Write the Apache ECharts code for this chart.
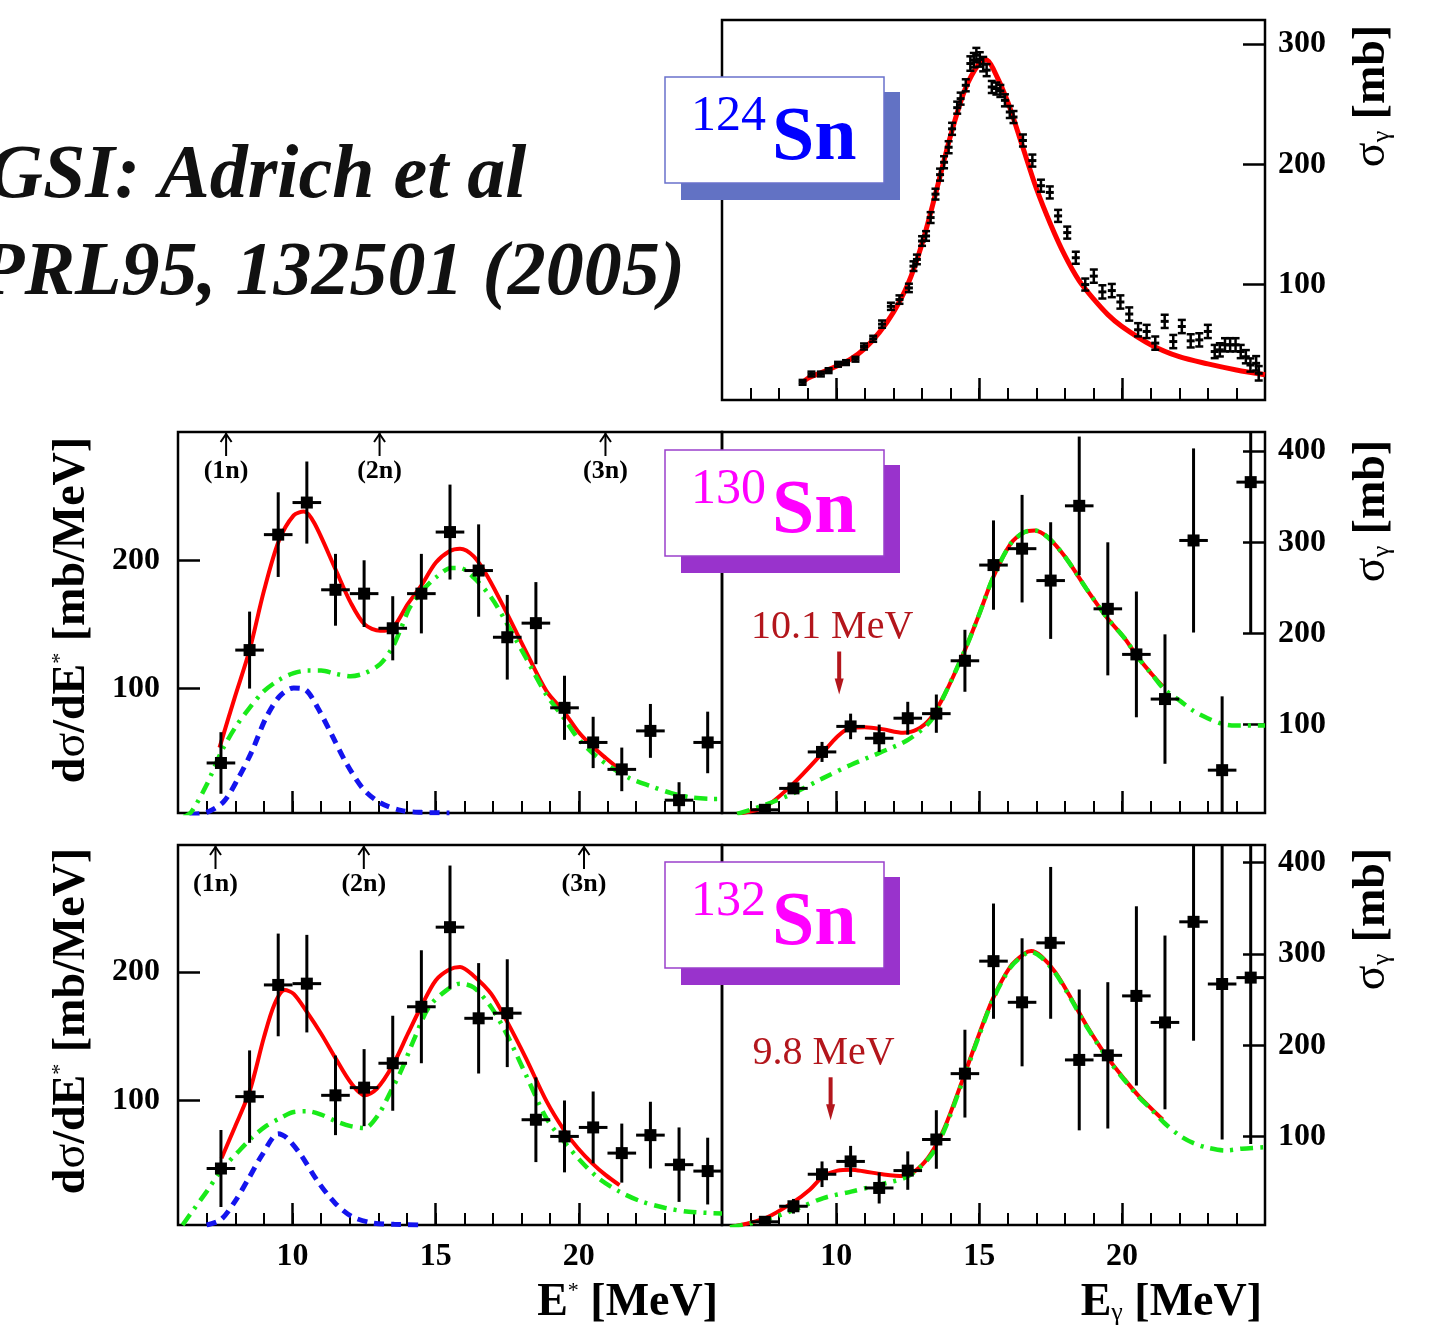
<!DOCTYPE html>
<html>
<head>
<meta charset="utf-8">
<title>Sn dipole strength</title>
<script src="https://cdn.jsdelivr.net/npm/echarts@6/dist/echarts.min.js"></script>
<style>
  html, body { margin: 0; padding: 0; background: #fff; }
  #chart { width: 1435px; height: 1335px; }
</style>
</head>
<body>
<div id="chart"></div>
<script>
// ---------- data ----------
const X_MAJOR = [10, 15, 20];
const Y_LEFT_TICKS = [100, 200];
const Y_RIGHT_TICKS = [100, 200, 300, 400];
const Y_TOP_TICKS = [100, 200, 300];

// 124Sn photoabsorption cross section
const SN124_E = [8.82, 9.13, 9.46, 9.73, 10.06, 10.34, 10.67, 10.97, 11.29, 11.60,
  11.91, 12.21, 12.54, 12.70, 12.82, 13.00, 13.14, 13.30, 13.47, 13.63,
  13.77, 13.93, 14.05, 14.23, 14.35, 14.53, 14.69, 14.81, 14.90, 15.02,
  15.14, 15.26, 15.44, 15.60, 15.74, 15.90, 16.07, 16.20, 16.53, 16.86,
  17.16, 17.47, 17.76, 18.08, 18.38, 18.71, 19.01, 19.31, 19.64, 19.94,
  20.25, 20.56, 20.86, 21.16, 21.49, 21.79, 22.09, 22.40, 22.70, 23.00,
  23.24, 23.42, 23.60, 23.78, 23.97, 24.15, 24.33, 24.49, 24.69, 24.78];
const SN124_SIGMA = [18.7, 25.6, 25.6, 28.4, 33.7, 35.1, 37.9, 48.5, 54.9, 67.1,
  81.9, 87.5, 97.2, 115.3, 120.9, 136.2, 140.4, 155.7, 175.2, 191.4,
  201.7, 214.2, 229.5, 247.1, 254.6, 265.7, 283.8, 286.6, 290.8, 287.2,
  283.3, 278.3, 264.3, 263.0, 261.0, 253.2, 243.5, 239.3, 219.8, 203.1,
  182.2, 176.6, 157.1, 143.2, 122.3, 100.0, 107.0, 93.9, 95.0, 85.5,
  75.5, 62.4, 61.0, 51.3, 69.4, 52.6, 65.1, 53.2, 54.0, 61.0,
  44.3, 45.7, 49.9, 49.9, 49.9, 44.3, 40.0, 33.1, 34.5, 26.2];
const SN124_ERR = [2, 2, 2, 2, 2, 2, 2, 2.5, 2.5, 3,
  3, 3.5, 3.5, 4, 4, 4, 4, 4.5, 4.5, 5,
  5, 5, 5, 5, 5, 5, 6, 6, 6, 6,
  6, 5, 5, 5, 5, 5, 5, 5, 5, 5,
  5, 5, 5, 5, 5, 5, 5.5, 5.5, 5.5, 5.5,
  5.5, 5.5, 5.5, 5.5, 5.5, 5.5, 5.5, 5.5, 5.5, 5.5,
  5.5, 5.5, 5.5, 5.5, 5.5, 5.5, 5.5, 5.5, 6, 6];
const FIT124_E = [8.8, 9.0, 9.5, 10.0, 10.5, 11.0, 11.5, 12.0, 12.5, 13.0, 13.5, 14.0, 14.5, 15.0, 15.25,
  15.5, 16.0, 16.5, 17.0, 17.5, 18.0, 18.5, 19.0, 19.5, 20.0, 21.0, 22.0, 23.0, 24.0, 25.0];
const FIT124_SIGMA = [18, 22, 27, 32, 38, 47, 60, 77, 100, 134, 178, 224, 262, 284, 287,
  279, 252, 216, 180, 150, 124, 103, 88, 75, 65, 50, 40, 34, 29, 25];

// 1-MeV bins shared by the 130Sn / 132Sn spectra
const BIN_CENTERS = [7.5, 8.5, 9.5, 10.5, 11.5, 12.5, 13.5, 14.5, 15.5, 16.5, 17.5, 18.5, 19.5, 20.5, 21.5, 22.5, 23.5, 24.5];
const BIN_HALF = 0.5;

// 130Sn: excitation-energy spectrum dσ/dE*
const SN130_EX = [42, 130, 220, 245, 177, 174, 147, 174, 222, 192, 140, 151, 85, 58, 37, 67, 13, 58];
const SN130_EX_ERR = [24, 30, 33, 32, 28, 26, 25, 31, 37, 36, 33, 32, 25, 20, 17, 21, 14, 24];
// 130Sn: photoabsorption cross section σγ
const SN130_G = [6.5, 30, 70, 98, 85, 107, 112, 170, 275, 293, 258, 340, 227, 177, 128, 302, 50, 366];
const SN130_G_ERR = [3, 6, 11, 14, 15, 18, 21, 34, 49, 59, 64, 76, 73, 69, 71, 101, 81, 166];
// 132Sn
const SN132_EX = [47, 103, 190, 191, 104, 110, 129, 173, 235, 164, 168, 85, 72, 79, 59, 73, 50, 45];
const SN132_EX_ERR = [30, 36, 40, 38, 31, 30, 37, 44, 48, 43, 42, 33, 28, 28, 23, 26, 29, 26];
const SN132_G = [7, 24, 59, 73, 44, 63, 97, 169, 292, 247, 312, 184, 189, 254, 225, 335, 267, 274];
const SN132_G_ERR = [3, 8, 14, 17, 17, 21, 32, 48, 63, 70, 83, 77, 80, 98, 95, 130, 170, 182];

// 130Sn fit curves (E*)
const FIT130_EX_E = [7.45, 7.98, 8.5, 9.0, 9.52, 10.04, 10.4, 10.76, 11.5, 12.03, 12.52, 13.06, 13.49, 14.03,
  14.49, 15.0, 15.48, 15.85, 16.33, 16.82, 17.48, 18.15, 18.87, 19.48, 19.96, 20.47, 20.93, 21.42];
const FIT130_EX = [54, 93, 130, 176, 215, 235, 238, 229, 193, 167, 150, 145, 147, 166,
  180, 198, 207, 209, 203, 187, 159, 129, 98, 82, 67, 55, 46, 37];
const GDR130_EX_E = [6.2, 6.47, 7.0, 7.52, 7.98, 8.5, 9.0, 9.55, 10.04, 10.52, 11.0, 11.5, 12.03, 12.52, 13.06,
  13.49, 13.79, 14.09, 14.52, 15.0, 15.54, 15.85, 16.33, 16.94, 17.48, 18.15, 18.87, 19.48, 19.96,
  20.57, 21.17, 21.78, 22.5, 23.23, 23.96, 24.68, 25.0];
const GDR130_EX = [0, 4, 25, 51, 69, 85, 98, 107, 112, 114, 114, 111.5, 109.6, 112, 119,
  132, 147, 163, 176, 186.5, 194, 194, 186.5, 171, 151, 124, 95, 77, 61.5,
  48, 38, 30, 24, 18.5, 15, 14, 14];
const PDR130_EX_E = [6.4, 7.0, 7.6, 8.1, 8.58, 9.07, 9.55, 10.04, 10.46, 10.88, 11.37, 11.85, 12.46, 13.06, 13.79, 14.52, 15.48];
const PDR130_EX = [2, 3.5, 12, 30, 51, 77, 94, 100.5, 99, 85, 64, 43, 22, 11, 5, 3.5, 3];

// 130Sn fit curves (Eγ)
const FIT130_G_E = [6.53, 7.52, 8.52, 9.52, 10.04, 10.46, 11.0, 11.61, 12.34, 12.82, 13.3, 13.79, 14.49,
  15.0, 15.48, 16.09, 16.57, 16.94, 17.42, 18.03, 18.75, 19.48, 20.08, 20.57, 21.05, 21.42];
const FIT130_G = [2, 10, 36, 69, 87, 96, 97, 95, 91, 94.5, 107, 133, 181,
  221, 261, 298, 311, 313, 305, 283, 249, 217, 195, 173, 155, 142];
const GDR130_G_E = [6.53, 7.52, 8.52, 9.52, 10.52, 11.51, 12.52, 13.3, 13.79, 14.49, 15.0, 15.48, 16.09,
  16.57, 16.94, 17.42, 18.03, 18.75, 19.48, 20.08, 20.57, 21.05, 21.48, 22.03, 22.5, 22.99, 23.47, 23.96, 25.0];
const GDR130_G = [2, 12, 25, 41, 56, 69, 83.5, 104, 133, 181, 221, 261, 298,
  311, 313, 305, 283, 249, 217, 195, 173, 155, 138.5, 126, 115, 107, 101, 99, 99];

// 132Sn fit curves (E*)
const FIT132_EX_E = [7.52, 7.98, 8.5, 9.0, 9.37, 9.73, 10.04, 10.5, 11.0, 11.5, 12.03, 12.52, 12.94, 13.49,
  14.03, 14.49, 15.0, 15.48, 15.85, 16.33, 16.94, 17.48, 18.15, 18.87, 19.48, 19.96, 20.47, 20.93, 21.42];
const FIT132_EX = [55, 79, 107, 149, 175, 186, 183, 169, 152, 133, 114, 104, 109, 127,
  152, 173, 193.5, 202, 204, 197, 183, 162, 133, 99.5, 77, 63, 51, 42, 34];
const GDR132_EX_E = [6.16, 6.53, 7.0, 7.52, 8.1, 8.58, 9.07, 9.55, 10.04, 10.52, 11.0, 11.5, 12.03, 12.52,
  13.0, 13.43, 13.79, 14.27, 14.76, 15.36, 15.85, 16.33, 16.94, 17.48, 18.15, 18.87, 19.48, 20.08,
  20.69, 21.42, 22.14, 22.99, 23.84, 25.0];
const GDR132_EX = [3, 14.6, 29, 46, 60, 71, 80, 86, 91, 91.6, 89, 84, 80, 78.6,
  89, 107, 123, 149, 172.6, 185.6, 191, 188, 172.6, 151.7, 120, 86, 68, 52.5,
  39.4, 29, 21.7, 16.4, 13.3, 12];
const PDR132_EX_E = [7.0, 7.49, 7.98, 8.46, 8.95, 9.5, 9.79, 10.28, 10.88, 11.49, 12.09, 12.82, 13.55, 14.39];
const PDR132_EX = [3, 7, 21, 39, 58, 74, 71, 58, 37, 20, 9.4, 4.5, 3.5, 3];

// 132Sn fit curves (Eγ)
const FIT132_G_E = [6.28, 7.52, 8.52, 9.07, 9.55, 10.04, 10.52, 11.0, 11.61, 12.34, 12.82, 13.3, 13.79, 14.49,
  15.0, 15.48, 16.09, 16.57, 16.82, 17.18, 17.66, 18.15, 18.75, 19.48, 20.08, 20.57, 21.05, 21.42];
const FIT132_G = [1, 11, 29, 42, 57, 63, 64, 62, 59, 57, 64, 81, 110, 168.5,
  212.5, 251, 286, 300, 303, 297, 280, 255, 222, 187, 163, 145, 130, 119];
const GDR132_G_E = [6.28, 7.52, 8.52, 9.55, 10.52, 11.51, 12.52, 13.3, 13.79, 14.49, 15.0, 15.48, 16.09,
  16.57, 16.82, 17.18, 17.66, 18.15, 18.75, 19.48, 20.08, 20.57, 21.05, 21.48, 22.03, 22.5, 22.99, 23.6, 24.2, 25.0];
const GDR132_G = [1, 9, 20, 33, 40, 47.6, 57, 79, 108, 167, 211, 250, 285,
  299, 302, 296, 279, 254, 221, 186, 162, 144, 129, 115, 101, 93, 88, 85, 87, 88.6];

// neutron separation thresholds (E*)
const THRESH_LABELS = ['(1n)', '(2n)', '(3n)'];
const THRESH130 = [7.68, 13.04, 20.93];
const THRESH132 = [7.31, 12.49, 20.18];

// pygmy centroid markers
const PDR_MARK130 = { energy: 10.1, label: '10.1 MeV' };
const PDR_MARK132 = { energy: 9.8, label: '9.8 MeV' };

// ---------- styling ----------
const SERIF = '"Liberation Serif", "Times New Roman", serif';
const RED = '#ff0000';
const GREEN = '#19ea19';
const BLUE = '#1414ee';
const DARKRED = '#b3161c';

const chart = echarts.init(document.getElementById('chart'), null, { renderer: 'canvas' });

const grids = [
  { left: 722, top: 20, width: 543, height: 380 },   // 124Sn σγ
  { left: 178, top: 432, width: 544, height: 381 },  // 130Sn E*
  { left: 722, top: 432, width: 543, height: 381 },  // 130Sn Eγ
  { left: 178, top: 845, width: 544, height: 380 },  // 132Sn E*
  { left: 722, top: 845, width: 543, height: 380 }   // 132Sn Eγ
].map(g => Object.assign(g, { show: true, borderColor: '#000', borderWidth: 2.5, backgroundColor: 'transparent' }));

const labelFont = { fontFamily: SERIF, fontWeight: 'bold', fontSize: 32, color: '#000' };

function xAxesFor(g, showLabels) {
  return [
    { type: 'value', gridIndex: g, min: 6, max: 25, position: 'bottom',
      axisLine: { show: false }, splitLine: { show: false },
      axisTick: { show: true, inside: true, length: 22, customValues: X_MAJOR, lineStyle: { color: '#000', width: 2.5 } },
      axisLabel: Object.assign({ show: showLabels, customValues: X_MAJOR, margin: 16 }, labelFont) },
    { type: 'value', gridIndex: g, min: 6, max: 25, interval: 1, position: 'bottom',
      axisLine: { show: false }, splitLine: { show: false },
      axisTick: { show: true, inside: true, length: 12, lineStyle: { color: '#000', width: 2 } },
      axisLabel: { show: false } }
  ];
}
function yAxisFor(g, pos, min, max, ticks) {
  return { type: 'value', gridIndex: g, min: min, max: max, position: pos,
    axisLine: { show: false }, splitLine: { show: false },
    axisTick: { show: true, inside: true, length: 22, customValues: ticks, lineStyle: { color: '#000', width: 2.5 } },
    axisLabel: Object.assign({ customValues: ticks, margin: pos === 'left' ? 18 : 13 }, labelFont) };
}

const xAxis = [].concat(xAxesFor(0, false), xAxesFor(1, false), xAxesFor(2, false), xAxesFor(3, true), xAxesFor(4, true));
const yAxis = [
  yAxisFor(0, 'right', 4, 320, Y_TOP_TICKS),
  yAxisFor(1, 'left', 3, 300, Y_LEFT_TICKS),
  yAxisFor(2, 'right', 3, 421, Y_RIGHT_TICKS),
  yAxisFor(3, 'left', 3, 299, Y_LEFT_TICKS),
  yAxisFor(4, 'right', 3.5, 419, Y_RIGHT_TICKS)
];

const zip = (xs, ys) => xs.map((x, i) => [x, ys[i]]);

function curve(g, xs, ys, lineStyle, z) {
  return { type: 'line', xAxisIndex: 2 * g, yAxisIndex: g, data: zip(xs, ys),
    showSymbol: false, symbol: 'none', smooth: 0.3, clip: true, silent: true, z: z,
    lineStyle: lineStyle };
}
const redStyle = { color: RED, width: 4, cap: 'butt' };
const greenStyle = { color: GREEN, width: 4.5, type: [13, 7, 3, 7], cap: 'butt' };
const blueStyle = { color: BLUE, width: 5, type: [10, 7], cap: 'butt' };

// square marker with x/y error bars, clamped to the plot frame
function binnedRender(params, api) {
  const cs = params.coordSys;
  const top = cs.y, bot = cs.y + cs.height, left = cs.x, right = cs.x + cs.width;
  const x = api.value(0), y = api.value(1), ex = api.value(2), ey = api.value(3);
  const p = api.coord([x, y]);
  const xl = Math.max(left, api.coord([x - ex, y])[0]);
  const xr = Math.min(right, api.coord([x + ex, y])[0]);
  const yt = Math.max(top, api.coord([x, y + ey])[1]);
  const yb = Math.min(bot, api.coord([x, y - ey])[1]);
  const s = 12;
  const ry0 = p[1] - s / 2, ry1 = Math.min(bot, p[1] + s / 2);
  const children = [
    { type: 'line', shape: { x1: p[0], y1: yt, x2: p[0], y2: yb }, style: { stroke: '#000', lineWidth: 3 } }
  ];
  if (p[1] <= bot) {
    children.push({ type: 'line', shape: { x1: xl, y1: p[1], x2: xr, y2: p[1] }, style: { stroke: '#000', lineWidth: 3 } });
  }
  if (ry1 > ry0) {
    children.push({ type: 'rect', shape: { x: p[0] - s / 2, y: ry0, width: s, height: ry1 - ry0 }, style: { fill: '#000' } });
  }
  return { type: 'group', children: children };
}
function binned(g, vals, errs) {
  return { type: 'custom', xAxisIndex: 2 * g, yAxisIndex: g, z: 5, silent: true,
    data: BIN_CENTERS.map((e, i) => [e, vals[i], BIN_HALF, errs[i]]),
    renderItem: binnedRender };
}

// capped ("I"-shaped) error bars for the 124Sn data
function cappedRender(params, api) {
  const x = api.value(0), y = api.value(1), ey = api.value(2);
  const p = api.coord([x, y]);
  const yt = api.coord([x, y + ey])[1], yb = api.coord([x, y - ey])[1];
  const w = 4, st = { stroke: '#000', lineWidth: 2.5 };
  return { type: 'group', children: [
    { type: 'line', shape: { x1: p[0], y1: yt, x2: p[0], y2: yb }, style: st },
    { type: 'line', shape: { x1: p[0] - w, y1: yt, x2: p[0] + w, y2: yt }, style: st },
    { type: 'line', shape: { x1: p[0] - w, y1: yb, x2: p[0] + w, y2: yb }, style: st },
    { type: 'line', shape: { x1: p[0] - w, y1: p[1], x2: p[0] + w, y2: p[1] }, style: { stroke: '#000', lineWidth: 3 } }
  ] };
}

// threshold arrows along the top of the E* panels
function thresholdSeries(g, energies) {
  return { type: 'custom', xAxisIndex: 2 * g, yAxisIndex: g, z: 6, silent: true,
    data: energies.map((e, i) => [e, i]),
    renderItem: function (params, api) {
      const top = params.coordSys.y;
      const x = api.coord([api.value(0), 100])[0];
      const st = { stroke: '#000', lineWidth: 2, fill: 'none' };
      return { type: 'group', children: [
        { type: 'line', shape: { x1: x, y1: top + 1, x2: x, y2: top + 24 }, style: st },
        { type: 'polyline', shape: { points: [[x - 5.5, top + 10], [x, top + 2], [x + 5.5, top + 10]] }, style: st },
        { type: 'text', style: { text: THRESH_LABELS[api.value(1)], x: x, y: top + 39, align: 'center', verticalAlign: 'middle',
          font: 'bold 26px ' + SERIF, fill: '#000' } }
      ] };
    } };
}

// labelled down-arrow marking the pygmy resonance energy
function pdrMarker(g, mark, tipSigma) {
  return { type: 'custom', xAxisIndex: 2 * g, yAxisIndex: g, z: 6, silent: true,
    data: [[mark.energy, tipSigma]],
    renderItem: function (params, api) {
      const p = api.coord([api.value(0), api.value(1)]);
      return { type: 'group', children: [
        { type: 'line', shape: { x1: p[0], y1: p[1] - 43, x2: p[0], y2: p[1] - 12 }, style: { stroke: DARKRED, lineWidth: 4 } },
        { type: 'polygon', shape: { points: [[p[0] - 4.5, p[1] - 16], [p[0] + 4.5, p[1] - 16], [p[0], p[1]]] }, style: { fill: DARKRED } },
        { type: 'text', style: { text: mark.label, x: p[0] - 7, y: p[1] - 67, align: 'center', verticalAlign: 'middle',
          font: '40px ' + SERIF, fill: DARKRED } }
      ] };
    } };
}

const series = [
  // 124Sn
  curve(0, FIT124_E, FIT124_SIGMA, { color: RED, width: 5 }, 2),
  { type: 'custom', xAxisIndex: 0, yAxisIndex: 0, z: 5, silent: true,
    data: SN124_E.map((e, i) => [e, SN124_SIGMA[i], SN124_ERR[i]]), renderItem: cappedRender },
  // 130Sn E*
  curve(1, PDR130_EX_E, PDR130_EX, blueStyle, 2),
  curve(1, FIT130_EX_E, FIT130_EX, redStyle, 3),
  curve(1, GDR130_EX_E, GDR130_EX, greenStyle, 4),
  binned(1, SN130_EX, SN130_EX_ERR),
  thresholdSeries(1, THRESH130),
  // 130Sn Eγ
  curve(2, FIT130_G_E, FIT130_G, redStyle, 3),
  curve(2, GDR130_G_E, GDR130_G, greenStyle, 4),
  binned(2, SN130_G, SN130_G_ERR),
  pdrMarker(2, PDR_MARK130, 133),
  // 132Sn E*
  curve(3, PDR132_EX_E, PDR132_EX, blueStyle, 2),
  curve(3, FIT132_EX_E, FIT132_EX, redStyle, 3),
  curve(3, GDR132_EX_E, GDR132_EX, greenStyle, 4),
  binned(3, SN132_EX, SN132_EX_ERR),
  thresholdSeries(3, THRESH132),
  // 132Sn Eγ
  curve(4, FIT132_G_E, FIT132_G, redStyle, 3),
  curve(4, GDR132_G_E, GDR132_G, greenStyle, 4),
  binned(4, SN132_G, SN132_G_ERR),
  pdrMarker(4, PDR_MARK132, 118)
];

// isotope tag: shadowed box with mass number and element symbol
function isotopeTag(top, mass, border, shadow, ink) {
  return [
    { type: 'rect', z: 100, shape: { x: 681, y: top + 15, width: 219, height: 108 }, style: { fill: shadow } },
    { type: 'rect', z: 101, shape: { x: 665, y: top, width: 219, height: 106 }, style: { fill: '#fff', stroke: border, lineWidth: 1.5 } },
    { type: 'text', z: 102, x: 691, y: top + 40, style: { text: mass, align: 'left', verticalAlign: 'middle', font: '50px ' + SERIF, fill: ink } },
    { type: 'text', z: 102, x: 772, y: top + 62, style: { text: 'Sn', align: 'left', verticalAlign: 'middle', font: 'bold 76px ' + SERIF, fill: ink } }
  ];
}

const richY = {
  b: { fontFamily: SERIF, fontWeight: 'bold', fontSize: 46, fill: '#000' },
  n: { fontFamily: SERIF, fontSize: 46, fill: '#000' },
  s: { fontFamily: SERIF, fontSize: 22, fill: '#000', verticalAlign: 'top' },
  g: { fontFamily: SERIF, fontSize: 26, fill: '#000', verticalAlign: 'bottom' }
};

function leftTitle(cy) {
  return { type: 'text', z: 100, x: 72, y: cy, rotation: Math.PI / 2,
    style: { text: '{b|d}{n|σ}{b|/dE}{s|*}{b| [mb/MeV]}', align: 'center', verticalAlign: 'middle', rich: richY } };
}
function rightTitle(cy) {
  return { type: 'text', z: 100, x: 1372, y: cy, rotation: Math.PI / 2,
    style: { text: '{n|σ}{g|γ}{b| [mb]}', align: 'center', verticalAlign: 'middle', rich: richY } };
}

const graphic = [].concat(
  [
    { type: 'text', z: 100, x: -12, y: 177, style: { text: 'GSI: Adrich et al', align: 'left', verticalAlign: 'middle',
      font: 'italic bold 76px ' + SERIF, fill: '#111' } },
    { type: 'text', z: 100, x: -22, y: 274, style: { text: 'PRL95, 132501 (2005)', align: 'left', verticalAlign: 'middle',
      font: 'italic bold 76px ' + SERIF, fill: '#111' } }
  ],
  isotopeTag(77, '124', '#6a72cc', '#6272c4', '#0000ff'),
  isotopeTag(450, '130', '#9a40cc', '#9933cc', '#ff00ff'),
  isotopeTag(862, '132', '#9a40cc', '#9933cc', '#ff00ff'),
  [
    leftTitle(610), leftTitle(1021),
    rightTitle(96), rightTitle(511), rightTitle(919),
    { type: 'text', z: 100, x: 718, y: 1303, style: { text: '{b|E}{s|*}{b| [MeV]}', align: 'right', verticalAlign: 'middle', rich: richY } },
    { type: 'text', z: 100, x: 1262, y: 1303, style: { text: '{b|E}{g|γ}{b| [MeV]}', align: 'right', verticalAlign: 'middle', rich: richY } }
  ]
);

chart.setOption({
  backgroundColor: '#fff',
  animation: false,
  grid: grids,
  xAxis: xAxis,
  yAxis: yAxis,
  series: series,
  graphic: graphic
});
</script>
</body>
</html>
